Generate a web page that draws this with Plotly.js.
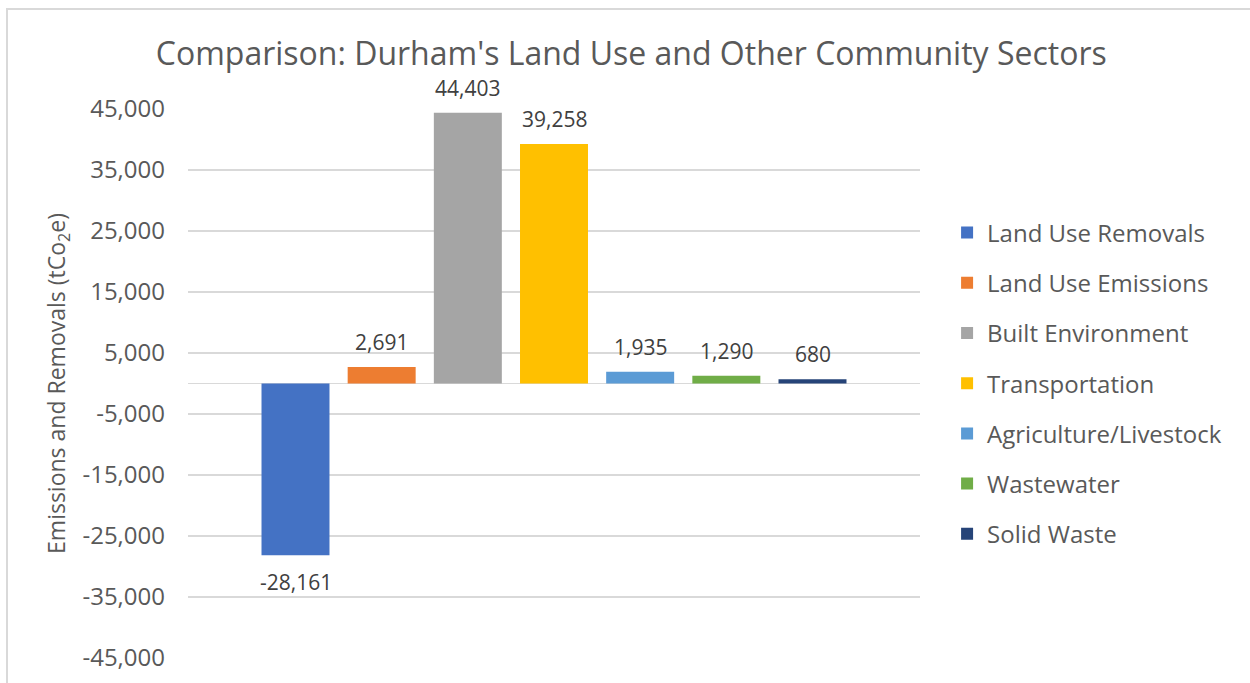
<!DOCTYPE html>
<html>
<head>
<meta charset="utf-8">
<script src="https://cdn.plot.ly/plotly-3.0.1.min.js"></script>
<style>
  html, body { margin: 0; padding: 0; background: #ffffff; }
  #wrap { position: relative; width: 1250px; height: 683px; }
  #chart { width: 1250px; height: 683px; }
  #frame { position: absolute; left: 6px; top: 8px; width: 1244px; height: 675px;
           border-left: 2px solid #d9d9d9; border-top: 2px solid #d9d9d9; pointer-events: none; }
</style>
</head>
<body>
<div id="wrap">
  <div id="chart"></div>
  <div id="frame"></div>
</div>
<script>
// ---- data ----
const seriesNames = ["Land Use Removals", "Land Use Emissions", "Built Environment", "Transportation",
                     "Agriculture/Livestock", "Wastewater", "Solid Waste"];
const seriesValues = [-28161, 2691, 44403, 39258, 1935, 1290, 680];
const seriesColors = ["#4472C4", "#ED7D31", "#A5A5A5", "#FFC000", "#5B9BD5", "#70AD47", "#264478"];
const category = ["Community"];
const tickValues = [45000, 35000, 25000, 15000, 5000, -5000, -15000, -25000, -35000, -45000];
const tickLabels = ["45,000", "35,000", "25,000", "15,000", "5,000", "-5,000", "-15,000", "-25,000", "-35,000", "-45,000"];

const fmt = v => (v < 0 ? "-" : "") + Math.abs(v).toLocaleString("en-US");

const BARGAP = 0.176;
const BARGROUPGAP = 0.211;
const nSeries = seriesNames.length;

const traces = seriesNames.map((name, i) => ({
  type: "bar",
  name: name,
  x: category,
  y: [seriesValues[i]],
  marker: { color: seriesColors[i] },
  legendgroup: "g" + i,
  hoverinfo: "skip"
}));

// data labels placed at each bar's position on the category axis
const slot = (1 - BARGAP) / nSeries;
const annotations = seriesValues.map((v, i) => ({
  xref: "x", yref: "y",
  x: (i - (nSeries - 1) / 2) * slot,
  y: v,
  text: fmt(v),
  showarrow: false,
  xanchor: "center",
  yanchor: v >= 0 ? "bottom" : "top",
  yshift: v >= 0 ? 9 : -11,
  font: { family: "Open Sans", size: 21, color: "#404040" }
}));

const layout = {
  width: 1250, height: 683,
  margin: { l: 188, r: 330, t: 109, b: 25 },
  paper_bgcolor: "#ffffff", plot_bgcolor: "#ffffff",
  font: { family: "Open Sans", color: "#595959" },
  title: {
    text: "Comparison: Durham's Land Use and Other Community Sectors",
    font: { family: "Open Sans", size: 32, color: "#595959" },
    x: 0.505, xref: "container", xanchor: "center",
    y: 0.921, yref: "container", yanchor: "middle"
  },
  barmode: "group",
  bargap: BARGAP,
  bargroupgap: BARGROUPGAP,
  showlegend: true,
  legend: {
    x: 1.037, xanchor: "left", y: 0.5, yanchor: "middle",
    font: { family: "Open Sans", size: 24, color: "#595959" },
    tracegroupgap: 16, traceorder: "grouped", bgcolor: "rgba(0,0,0,0)"
  },
  annotations: annotations,
  xaxis: {
    type: "category",
    showticklabels: false, showgrid: false, zeroline: false, showline: false,
    ticks: ""
  },
  yaxis: {
    range: [-45000, 45000],
    tickvals: tickValues, ticktext: tickLabels,
    showgrid: true, gridcolor: "#d9d9d9", gridwidth: 1.5,
    zeroline: true, zerolinecolor: "#d9d9d9", zerolinewidth: 1.5,
    showline: false, ticks: "",
    ticklabelstandoff: 22,
    tickfont: { family: "Open Sans", size: 24, color: "#595959" },
    title: {
      text: "Emissions and Removals (tCo<sub>2</sub>e)",
      font: { family: "Open Sans", size: 23, color: "#595959" },
      standoff: 10
    }
  }
};

Plotly.newPlot("chart", traces, layout, { displayModeBar: false, staticPlot: true });
</script>
</body>
</html>
